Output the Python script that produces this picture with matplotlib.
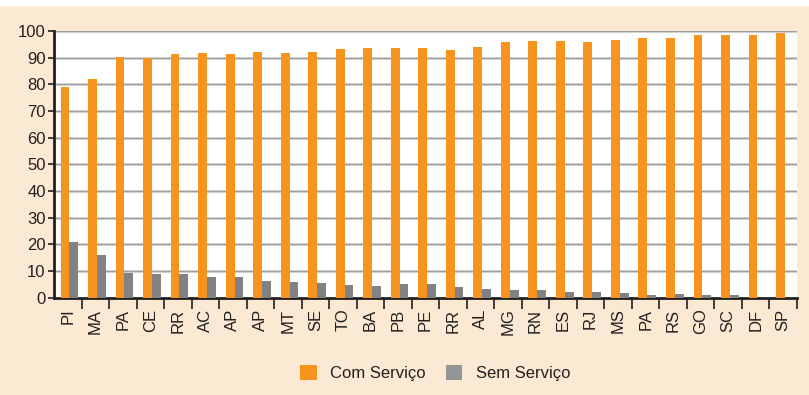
import matplotlib
matplotlib.use("Agg")
import matplotlib.pyplot as plt
from matplotlib.patches import Patch
import numpy as np

plt.rcParams["font.family"] = ["Liberation Sans", "DejaVu Sans"]

# States ordered by share of households with the service
states = ["PI", "MA", "PA", "CE", "RR", "AC", "AP", "AP", "MT", "SE", "TO", "BA", "PB",
          "PE", "RR", "AL", "MG", "RN", "ES", "RJ", "MS", "PA", "RS", "GO", "SC", "DF", "SP"]
com_servico = [79.0, 82.0, 90.1, 90.0, 91.3, 91.6, 91.3, 92.0, 91.6, 92.0, 93.1, 93.5, 93.5,
               93.5, 92.8, 93.9, 95.7, 96.1, 96.1, 95.7, 96.8, 97.2, 97.2, 98.4, 98.4, 98.4, 99.1]
sem_servico = [20.8, 16.0, 9.3, 8.9, 8.9, 7.7, 7.7, 6.2, 5.8, 5.4, 4.7, 4.3, 5.1,
               5.1, 3.9, 3.2, 2.8, 2.8, 2.1, 2.1, 1.7, 0.9, 1.3, 0.9, 0.9, 0.0, 0.0]
y_ticks = [0, 10, 20, 30, 40, 50, 60, 70, 80, 90, 100]

BEIGE = "#FCE9D3"
ORANGE = "#F7941E"
GRAY_BAR = "#808285"
GRAY_LEG = "#939598"
TEXT = "#231F20"

W, H = 809, 395
fig = plt.figure(figsize=(W / 100, H / 100), dpi=100, facecolor=BEIGE)
# white strip along the top edge
fig.patches.append(plt.Rectangle((0, 1 - 6 / H), 1, 6 / H, transform=fig.transFigure,
                                 facecolor="white", edgecolor="none", zorder=0))

ax = fig.add_axes([54 / W, (H - 297.5) / H, (797 - 54) / W, (297.5 - 31) / H])
ax.set_facecolor("white")

x = np.arange(len(states))
bw = 0.32
ax.bar(x - bw / 2 + 0.06, com_servico, width=bw, color=ORANGE, zorder=3, label="Com Serviço")
ax.bar(x + bw / 2 + 0.06, sem_servico, width=bw, color=GRAY_BAR, zorder=3, label="Sem Serviço")

ax.set_xlim(-0.5, len(states) - 0.5)
ax.set_ylim(0, 100)
ax.set_yticks(y_ticks)
ax.set_yticklabels([str(v) for v in y_ticks], fontsize=12, color=TEXT)

# gridlines with a soft shadow underneath
for v in y_ticks[1:]:
    ax.axhline(v, color="#D4D4D4", lw=1.8, zorder=1)
    ax.axhline(v, color="#9E9E9E", lw=1.0, zorder=2)

# category labels centred, tick marks on category boundaries
ax.set_xticks(x)
ax.set_xticklabels(states, rotation=90, fontsize=12, color=TEXT)
ax.tick_params(axis="x", which="major", length=0, pad=8)
ax.set_xticks(np.arange(-0.5, len(states) + 0.5, 1.0)[1:], minor=True)
ax.tick_params(axis="x", which="minor", length=8, width=1.2, color=TEXT)
ax.tick_params(axis="y", length=4, width=1.2, color=TEXT, pad=2)

for side in ("top", "right"):
    ax.spines[side].set_visible(False)
for side in ("left", "bottom"):
    ax.spines[side].set_linewidth(2)
    ax.spines[side].set_color(TEXT)

# legend
handles = [Patch(facecolor=ORANGE, edgecolor="none", label="Com Serviço"),
           Patch(facecolor=GRAY_LEG, edgecolor="none", label="Sem Serviço")]
fig.legend(handles=handles, loc="center", bbox_to_anchor=(435 / W, 1 - 373 / H), ncol=2,
           frameon=False, fontsize=12, handlelength=1.0, handleheight=1.0,
           handletextpad=0.8, columnspacing=1.2, labelcolor=TEXT)

fig.savefig("out.png", dpi=100, facecolor=BEIGE)
